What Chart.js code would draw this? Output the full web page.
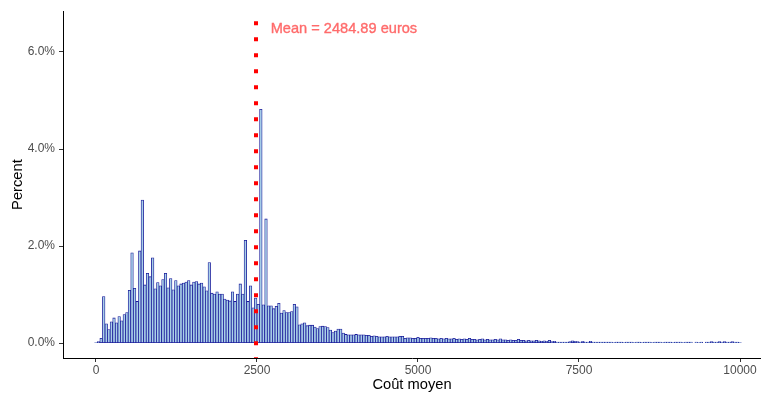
<!DOCTYPE html>
<html lang="fr">
<head>
<meta charset="utf-8">
<title>Coût moyen - histogramme</title>
<script src="https://cdn.jsdelivr.net/npm/chart.js@4.4.1/dist/chart.umd.min.js"></script>
<style>
    html, body { margin: 0; padding: 0; background: #ffffff; }
    #wrap { width: 761px; height: 399px; }
</style>
</head>
<body>
<div id="wrap"><canvas id="hist" width="761" height="399"></canvas></div>
<script>
/*
 * Histogram of "Coût moyen" (binwidth 40 euros, bins centred on 0, 40, 80 ...)
 * with the mean drawn as a dotted vertical line.
 */

const BIN_WIDTH = 40;
const MEAN_COST = 2484.89;

// percent of observations in each bin, first bin centred on 0
const binPercent = [
    0.01, 0.03, 0.10, 0.96, 0.40, 0.28, 0.44, 0.52, 0.42, 0.55,
    0.46, 0.59, 0.63, 1.09, 1.86, 1.13, 0.86, 1.90, 2.95, 1.20,
    1.44, 1.37, 1.76, 1.12, 1.25, 1.18, 1.31, 1.44, 1.14, 1.33,
    1.10, 1.29, 1.18, 1.22, 1.24, 1.26, 1.29, 1.20, 1.26, 1.27,
    1.22, 1.24, 1.16, 1.08, 1.66, 1.03, 1.01, 1.06, 1.01, 1.01,
    0.91, 0.89, 0.87, 1.06, 0.86, 1.01, 1.22, 1.01, 2.12, 0.86,
    1.18, 0.73, 0.93, 0.80, 4.82, 0.79, 2.56, 0.77, 0.77, 0.71,
    0.76, 0.82, 0.62, 0.67, 0.63, 0.63, 0.65, 0.80, 0.75, 0.38,
    0.40, 0.42, 0.36, 0.37, 0.37, 0.33, 0.30, 0.34, 0.35, 0.34,
    0.32, 0.27, 0.22, 0.25, 0.29, 0.29, 0.21, 0.18, 0.17, 0.17,
    0.17, 0.18, 0.17, 0.17, 0.17, 0.16, 0.16, 0.14, 0.15, 0.14,
    0.13, 0.13, 0.13, 0.14, 0.13, 0.13, 0.13, 0.13, 0.14, 0.14,
    0.10, 0.11, 0.11, 0.10, 0.10, 0.12, 0.10, 0.10, 0.10, 0.10,
    0.11, 0.10, 0.10, 0.09, 0.10, 0.09, 0.10, 0.09, 0.09, 0.10,
    0.08, 0.09, 0.08, 0.09, 0.08, 0.10, 0.08, 0.08, 0.07, 0.08,
    0.09, 0.07, 0.08, 0.07, 0.07, 0.08, 0.07, 0.09, 0.07, 0.07,
    0.06, 0.07, 0.06, 0.06, 0.08, 0.06, 0.06, 0.05, 0.06, 0.05,
    0.05, 0.06, 0.05, 0.04, 0.05, 0.04, 0.06, 0.03, 0.04, 0.02,
    0.02, 0.02, 0.02, 0.02, 0.03, 0.05, 0.04, 0.03, 0.02, 0.04,
    0.02, 0.02, 0.04, 0.02, 0.02, 0.02, 0.02, 0.02, 0.02, 0.02,
    0.02, 0.01, 0.02, 0.02, 0.02, 0.01, 0.02, 0.02, 0.02, 0.01,
    0.02, 0.02, 0.01, 0.02, 0.02, 0.02, 0.01, 0.02, 0.02, 0.02,
    0.01, 0.02, 0.02, 0.02, 0.01, 0.02, 0.02, 0.02, 0.01, 0.02,
    0.02, 0.02, 0.00, 0.02, 0.01, 0.02, 0.00, 0.02, 0.02, 0.03,
    0.02, 0.02, 0.03, 0.02, 0.03, 0.02, 0.02, 0.03, 0.02, 0.02,
    0.01
];

const xTicks = [0, 2500, 5000, 7500, 10000];
const yTicks = [0, 2, 4, 6];

// where the label of the mean sits (data units)
const meanLabel = { text: 'Mean = 2484.89 euros', x: 3850, y: 6.47 };

const FONT = "'Liberation Sans', Arial, sans-serif";

/**
 * Dotted mean line and its label, drawn on top of the bars.
 */
const meanLinePlugin = {
    id: 'meanLine',
    afterDatasetsDraw(chart) {
        const { ctx, chartArea, scales } = chart;
        const px = scales.x.getPixelForValue(MEAN_COST);
        ctx.save();
        ctx.strokeStyle = '#ff0000';
        ctx.lineWidth = 4;
        ctx.lineCap = 'butt';
        ctx.setLineDash([4, 12]);
        ctx.beginPath();
        ctx.moveTo(px, chartArea.top + 10);
        ctx.lineTo(px, chartArea.bottom);
        ctx.stroke();

        // label, slightly heavier than a plain fill like the original
        ctx.setLineDash([]);
        ctx.fillStyle = '#ff6b6b';
        ctx.strokeStyle = '#ff6b6b';
        ctx.lineWidth = 0.35;
        ctx.font = `14.6px ${FONT}`;
        ctx.textAlign = 'center';
        ctx.textBaseline = 'middle';
        const lx = scales.x.getPixelForValue(meanLabel.x);
        const ly = scales.y.getPixelForValue(meanLabel.y);
        ctx.fillText(meanLabel.text, lx, ly);
        ctx.strokeText(meanLabel.text, lx, ly);
        ctx.restore();
    }
};

function buildChart() {
    const points = binPercent.map((v, i) => ({ x: i * BIN_WIDTH, y: v }));
    const ctx = document.getElementById('hist').getContext('2d');

    new Chart(ctx, {
        type: 'bar',
        data: {
            datasets: [{
                data: points,
                backgroundColor: '#a9d0e8',
                borderColor: '#1a1a9a',
                borderWidth: 0.8,
                borderSkipped: false,
                barPercentage: 1,
                categoryPercentage: 1,
            }],
        },
        options: {
            responsive: false,
            animation: false,
            devicePixelRatio: 1,
            layout: { padding: { top: 8, right: 0, bottom: 0, left: 0 } },
            plugins: {
                legend: { display: false },
                tooltip: { enabled: false },
            },
            scales: {
                x: {
                    type: 'linear',
                    offset: false,
                    min: -512,
                    max: 10326,
                    afterBuildTicks: (scale) => {
                        scale.ticks = xTicks.map((v) => ({ value: v }));
                    },
                    afterFit: (scale) => { scale.height = 41; },
                    ticks: {
                        color: '#4d4d4d',
                        font: { family: FONT, size: 12 },
                        padding: 1,
                        maxRotation: 0,
                        autoSkip: false,
                        callback: (v) => String(v),
                    },
                    grid: {
                        offset: false,
                        drawOnChartArea: false,
                        drawTicks: true,
                        tickLength: 4,
                        tickColor: '#333333',
                    },
                    border: { display: true, color: '#000000', width: 1 },
                    title: {
                        display: true,
                        text: 'Coût moyen',
                        color: '#000000',
                        font: { family: FONT, size: 14.7 },
                        padding: { top: 0, bottom: 5 },
                    },
                },
                y: {
                    type: 'linear',
                    min: -0.306,
                    max: 6.84,
                    afterBuildTicks: (scale) => {
                        scale.ticks = yTicks.map((v) => ({ value: v }));
                    },
                    afterFit: (scale) => { scale.width = 63; },
                    ticks: {
                        color: '#4d4d4d',
                        font: { family: FONT, size: 12 },
                        padding: 4,
                        callback: (v) => `${v.toFixed(1)}%`,
                    },
                    grid: {
                        drawOnChartArea: false,
                        drawTicks: true,
                        tickLength: 4,
                        tickColor: '#333333',
                    },
                    border: { display: true, color: '#000000', width: 1 },
                    title: {
                        display: true,
                        text: 'Percent',
                        color: '#000000',
                        font: { family: FONT, size: 14.7 },
                        padding: { top: 9, bottom: 0 },
                    },
                },
            },
        },
        plugins: [meanLinePlugin],
    });
}

document.addEventListener('DOMContentLoaded', buildChart);
</script>
</body>
</html>
